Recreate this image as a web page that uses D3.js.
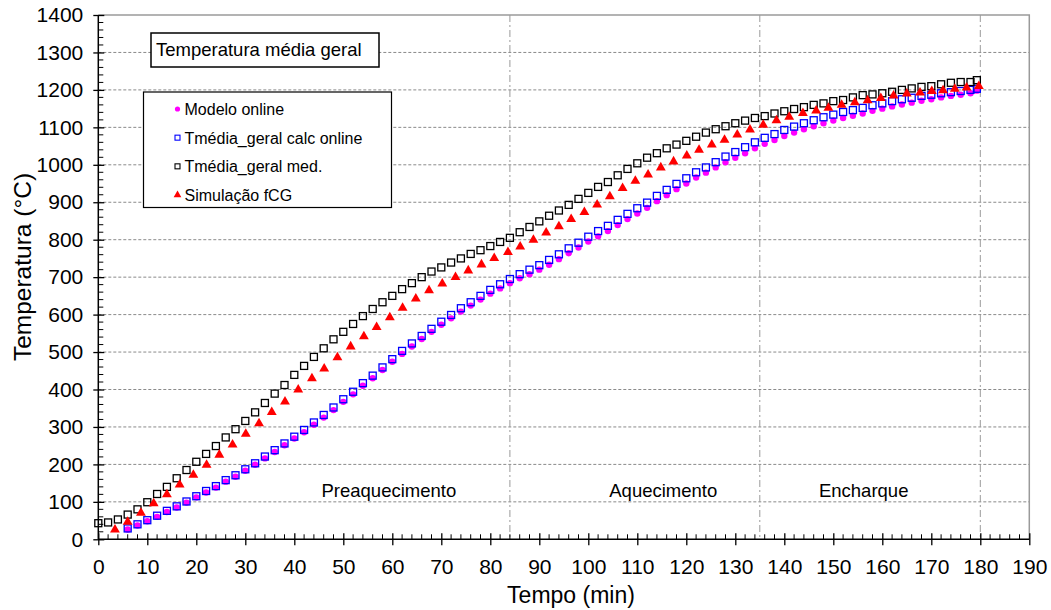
<!DOCTYPE html>
<html>
<head>
<meta charset="utf-8">
<script src="https://cdn.jsdelivr.net/npm/d3@7"></script>
<style>
  html, body { margin: 0; padding: 0; background: #fff; }
  svg { display: block; font-family: Arial, 'Liberation Sans', sans-serif; }
</style>
</head>
<body>
<svg id="chart" width="1051" height="610"></svg>
<script>
// time stamps (min)
const T_MED = [0,2,4,6,8,10,12,14,16,18,20,22,24,26,28,30,32,34,36,38,40,42,44,46,48,50,52,54,56,58,60,62,64,66,68,70,72,74,76,78,80,82,84,86,88,90,92,94,96,98,100,102,104,106,108,110,112,114,116,118,120,122,124,126,128,130,132,134,136,138,140,142,144,146,148,150,152,154,156,158,160,162,164,166,168,170,172,174,176,178,179.3];
const T_ONLINE = [6,8,10,12,14,16,18,20,22,24,26,28,30,32,34,36,38,40,42,44,46,48,50,52,54,56,58,60,62,64,66,68,70,72,74,76,78,80,82,84,86,88,90,92,94,96,98,100,102,104,106,108,110,112,114,116,118,120,122,124,126,128,130,132,134,136,138,140,142,144,146,148,150,152,154,156,158,160,162,164,166,168,170,172,174,176,178,179.3];
const T_SIM = [3.4,6.0,8.7,11.3,14.0,16.6,19.4,22.1,24.7,27.4,30.1,32.8,35.4,38.1,40.8,43.6,46.1,48.8,51.5,54.2,56.8,59.5,62.1,64.8,67.5,70.2,72.9,75.5,78.2,80.8,83.6,86.1,88.8,91.4,94.0,96.5,99.2,101.8,104.4,107.0,109.6,112.2,114.8,117.4,120.1,122.6,125.2,127.8,130.4,133.0,135.7,138.4,141.0,143.8,146.5,149.0,151.7,154.4,157.0,159.7,162.3,165.0,167.7,170.1,172.4,174.8,177.2,179.7];

// Tmédia_geral med.
const MED = [43,45,53,66,80,99,121,140,163,185,207,228,249,272,294,316,339,364,389,412,439,463,487,510,534,554,575,596,615,633,650,668,684,700,715,726,739,750,762,772,783,794,805,820,834,849,864,878,893,909,925,941,954,972,989,1004,1019,1031,1044,1054,1064,1075,1086,1095,1103,1111,1118,1125,1130,1137,1143,1149,1154,1160,1164,1170,1173,1180,1186,1188,1191,1195,1200,1204,1208,1210,1215,1219,1221,1221,1226];
// Tmédia_geral calc online
const CALC = [29,40,51,63,76,88,101,115,129,142,158,171,187,203,221,238,256,274,292,312,332,352,374,394,417,437,459,481,503,523,543,562,581,599,617,633,650,666,681,695,708,720,732,746,761,777,792,808,823,837,853,869,884,899,917,933,949,964,980,993,1007,1022,1034,1047,1060,1072,1082,1093,1102,1111,1119,1127,1134,1141,1146,1152,1159,1164,1170,1175,1179,1184,1187,1191,1194,1197,1200,1203];
// Modelo online
const MODEL = [26,37,48,60,73,85,98,112,125,138,154,167,183,199,216,233,251,269,286,306,325,345,367,387,410,430,452,474,495,515,535,554,573,590,608,624,640,656,670,684,697,708,720,733,748,764,779,795,809,823,839,855,870,885,903,919,935,950,966,979,993,1007,1019,1031,1044,1056,1066,1077,1086,1095,1103,1111,1118,1125,1131,1137,1144,1150,1156,1161,1166,1171,1175,1180,1184,1187,1191,1198];
// Simulação fCG
const SIM = [27,48,72,97,121,147,173,200,227,254,283,311,341,369,401,431,457,487,516,543,568,594,619,644,666,684,701,719,735,752,768,783,801,820,837,856,875,895,917,939,958,975,994,1010,1026,1041,1055,1068,1082,1095,1108,1120,1129,1139,1146,1153,1161,1168,1173,1179,1186,1191,1194,1198,1200,1204,1207,1211];

const X_MAJOR = [0,10,20,30,40,50,60,70,80,90,100,110,120,130,140,150,160,170,180,190];
const Y_MAJOR = [0,100,200,300,400,500,600,700,800,900,1000,1100,1200,1300,1400];
const PHASE_LINES = [84, 135, 180];
const PHASES = [
  { name: 'Preaquecimento', t: 59.3 },
  { name: 'Aquecimento', t: 115.3 },
  { name: 'Encharque', t: 156.2 },
];
const LEGEND = ['Modelo online', 'Tmédia_geral calc online', 'Tmédia_geral med.', 'Simulação fCG'];

const svg = d3.select('#chart');
const x = d3.scaleLinear().domain([0, 190]).range([98.3, 1029.3]);
const y = d3.scaleLinear().domain([0, 1400]).range([539.3, 15]);
const FONT = "Arial, 'Liberation Sans', sans-serif";

// grid
const gGrid = svg.append('g');
gGrid.selectAll('line.h').data(Y_MAJOR.filter(v => v > 0 && v < 1400)).join('line')
  .attr('x1', x(0)).attr('x2', x(190)).attr('y1', d => y(d)).attr('y2', d => y(d))
  .attr('stroke', '#8a8a8a').attr('stroke-width', 1).attr('stroke-dasharray', '3,2');
gGrid.selectAll('line.v').data(PHASE_LINES).join('line')
  .attr('x1', d => x(d)).attr('x2', d => x(d)).attr('y1', y(1400)).attr('y2', y(0))
  .attr('stroke', '#9a9a9a').attr('stroke-width', 1).attr('stroke-dasharray', '7,3,2,3');
// frame top/right
gGrid.append('path')
  .attr('d', `M${x(0)},${y(1400)}H${x(190)}V${y(0)}`)
  .attr('fill', 'none').attr('stroke', '#9a9a9a').attr('stroke-width', 1.5);

// phase labels
svg.append('g').selectAll('text').data(PHASES).join('text')
  .attr('x', d => x(d.t)).attr('y', 497)
  .attr('text-anchor', 'middle').attr('font-size', '18.5px').attr('font-family', FONT)
  .attr('fill', '#000').text(d => d.name);

// axes
const yMinor = d3.range(0, 1401, 20).filter(v => v % 100 !== 0);
const xMinor = d3.range(0, 191, 2).filter(v => v % 10 !== 0);

const gY = svg.append('g').attr('transform', `translate(${x(0)},0)`);
gY.call(d3.axisLeft(y).tickValues(Y_MAJOR).tickSize(5).tickPadding(10).tickFormat(d3.format('d')));
gY.call(g => g.select('.domain').attr('stroke', '#000').attr('stroke-width', 1.5).attr('d', `M0,${y(1400)}V${y(0)}`));
gY.selectAll('.tick text').attr('font-size', '21px').attr('font-family', FONT).attr('fill', '#000');
gY.selectAll('.tick line').attr('x2', -5).attr('x1', 6).attr('stroke', '#000').attr('stroke-width', 1.3);
gY.append('g').selectAll('line').data(yMinor).join('line')
  .attr('x1', 0).attr('x2', 5).attr('y1', d => y(d)).attr('y2', d => y(d))
  .attr('stroke', '#000').attr('stroke-width', 1);

const gX = svg.append('g').attr('transform', `translate(0,${y(0)})`);
gX.call(d3.axisBottom(x).tickValues(X_MAJOR).tickSize(6).tickPadding(14).tickFormat(d3.format('d')));
gX.call(g => g.select('.domain').attr('stroke', '#000').attr('stroke-width', 1.5).attr('d', `M${x(0)},0H${x(190)}`));
gX.selectAll('.tick text').attr('font-size', '21px').attr('font-family', FONT).attr('fill', '#000');
gX.selectAll('.tick line').attr('y1', -6).attr('y2', 6).attr('stroke', '#000').attr('stroke-width', 1.3);
gX.append('g').selectAll('line').data(xMinor).join('line')
  .attr('x1', d => x(d)).attr('x2', d => x(d)).attr('y1', 0).attr('y2', -5)
  .attr('stroke', '#000').attr('stroke-width', 1);

// axis titles
svg.append('text').attr('x', 571).attr('y', 603).attr('text-anchor', 'middle')
  .attr('font-size', '23px').attr('font-family', FONT).text('Tempo (min)');
svg.append('text').attr('transform', 'translate(31,267) rotate(-90)').attr('text-anchor', 'middle')
  .attr('font-size', '24.5px').attr('font-family', FONT).text('Temperatura (°C)');

// series
const tri = d3.symbol().type(d3.symbolTriangle).size(42);
const gS = svg.append('g');
gS.append('g').selectAll('circle').data(T_ONLINE.map((t, i) => [t, MODEL[i]])).join('circle')
  .attr('cx', d => x(d[0])).attr('cy', d => y(d[1])).attr('r', 3.2).attr('fill', '#ff00ff');
gS.append('g').selectAll('rect').data(T_ONLINE.map((t, i) => [t, CALC[i]])).join('rect')
  .attr('x', d => x(d[0]) - 3.5).attr('y', d => y(d[1]) - 3.5).attr('width', 7).attr('height', 7)
  .attr('fill', 'none').attr('stroke', '#0000ff').attr('stroke-width', 1.3);
gS.append('g').selectAll('rect').data(T_MED.map((t, i) => [t, MED[i]])).join('rect')
  .attr('x', d => x(d[0]) - 3.5).attr('y', d => y(d[1]) - 3.5).attr('width', 7).attr('height', 7)
  .attr('fill', 'none').attr('stroke', '#000').attr('stroke-width', 1.3);
gS.append('g').selectAll('path').data(T_SIM.map((t, i) => [t, SIM[i]])).join('path')
  .attr('d', tri).attr('transform', d => `translate(${x(d[0])},${y(d[1]) + 0.5})`)
  .attr('fill', '#ff0000');

// title box
const gT = svg.append('g');
gT.append('rect').attr('x', 151).attr('y', 33).attr('width', 228).attr('height', 34)
  .attr('fill', '#fff').attr('stroke', '#000').attr('stroke-width', 1.5);
gT.append('text').attr('x', 156).attr('y', 56).attr('font-size', '18.5px').attr('font-family', FONT)
  .text('Temperatura média geral');

// legend
const gL = svg.append('g');
gL.append('rect').attr('x', 143.5).attr('y', 92).attr('width', 248).attr('height', 115.5)
  .attr('fill', '#fff').attr('stroke', '#000').attr('stroke-width', 1.2);
const lRow = d3.scalePoint().domain(LEGEND).range([109, 195]);
gL.selectAll('text').data(LEGEND).join('text')
  .attr('x', 184.5).attr('y', d => lRow(d) + 6).attr('font-size', '16px').attr('font-family', FONT)
  .text(d => d);
gL.append('circle').attr('cx', 177.5).attr('cy', lRow(LEGEND[0])).attr('r', 2.6).attr('fill', '#ff00ff');
gL.append('rect').attr('x', 175).attr('y', lRow(LEGEND[1]) - 2.5).attr('width', 5).attr('height', 5)
  .attr('fill', 'none').attr('stroke', '#0000ff').attr('stroke-width', 1.1);
gL.append('rect').attr('x', 175).attr('y', lRow(LEGEND[2]) - 2.5).attr('width', 5).attr('height', 5)
  .attr('fill', 'none').attr('stroke', '#000').attr('stroke-width', 1.1);
gL.append('path').attr('d', d3.symbol().type(d3.symbolTriangle).size(26))
  .attr('transform', `translate(177.5,${lRow(LEGEND[3])})`).attr('fill', '#ff0000');
</script>
</body>
</html>
